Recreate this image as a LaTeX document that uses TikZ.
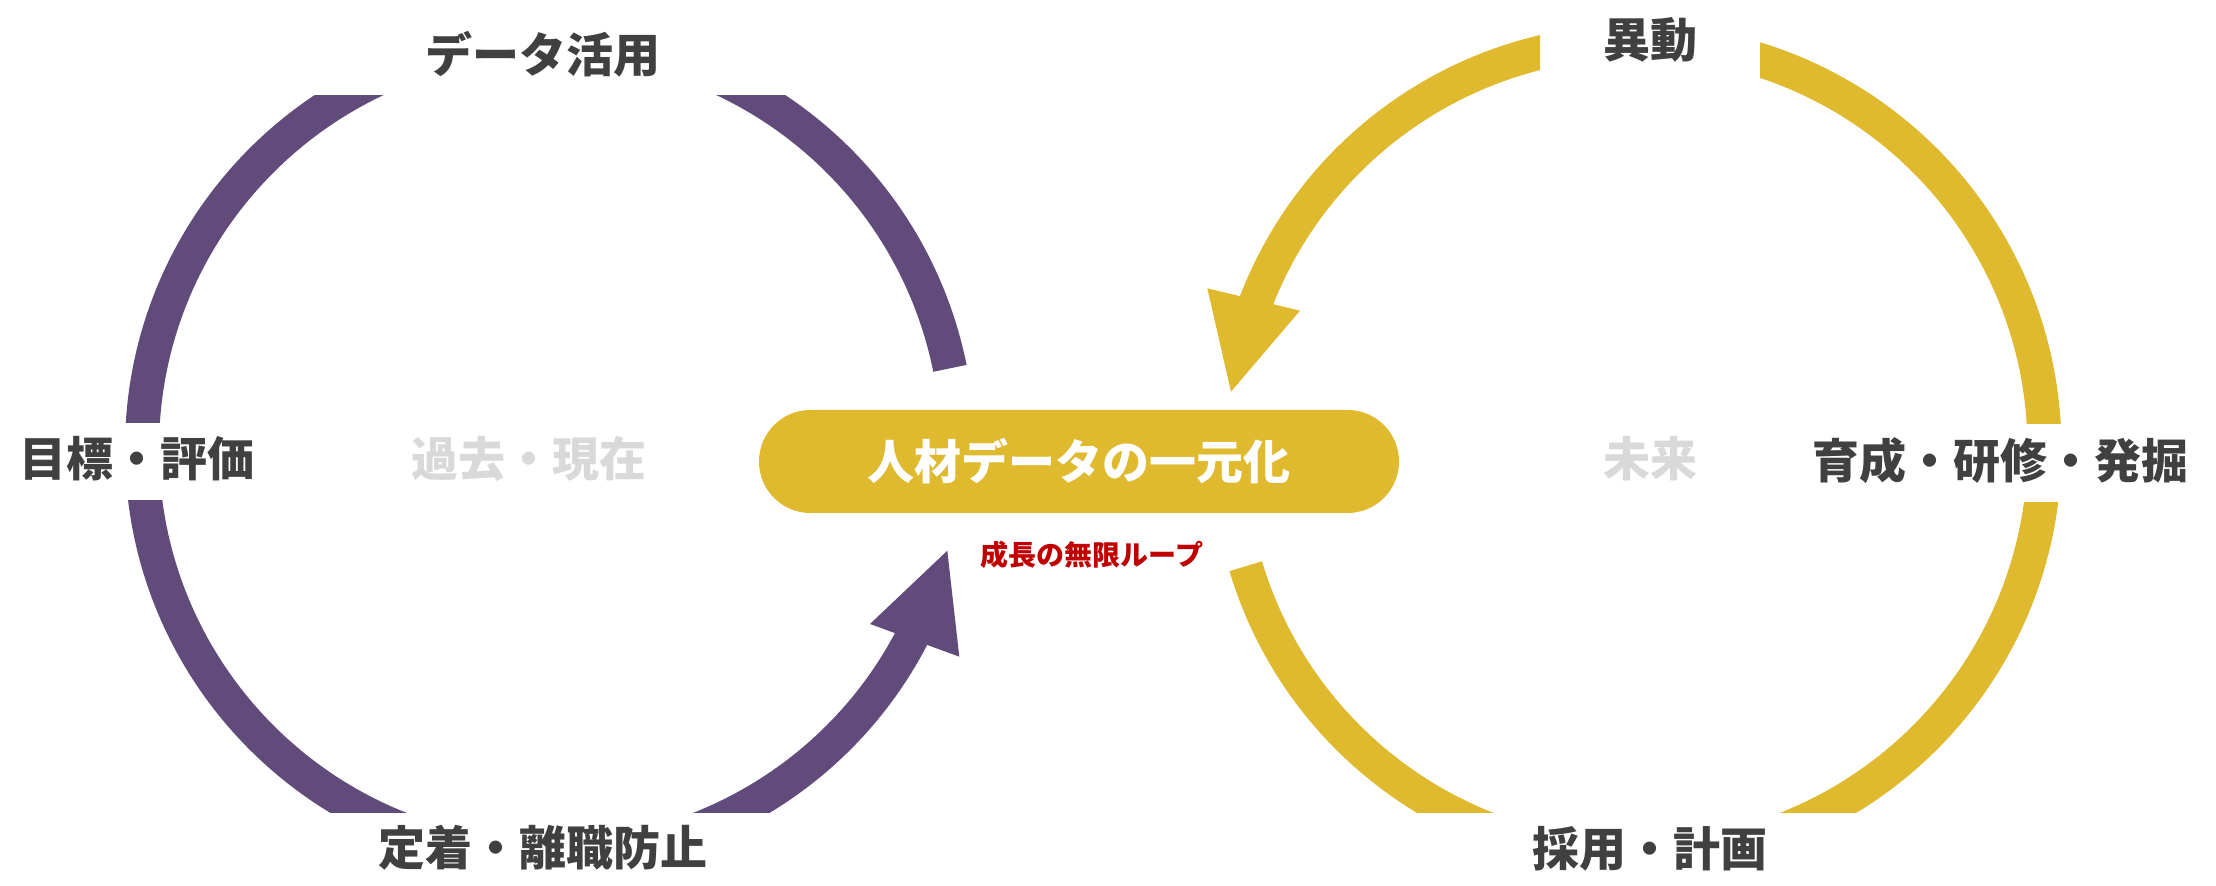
\documentclass[tikz,border=0pt]{standalone}
\usepackage{fontspec}
\newfontfamily\jpfont{Noto Sans CJK JP}

\begin{document}
\begin{tikzpicture}[x=0.5pt,y=0.5pt,
  loopline/.style={line width=17pt},
  steplabel/.style={font=\jpfont\bfseries\fontsize{23.5}{28}\selectfont,text=labelgray,inner sep=0pt},
  timelabel/.style={steplabel,text=palegray},
  hubpill/.style={fill=loopgold,minimum width=320pt,minimum height=51.5pt,rounded corners=25.7pt,
    font=\jpfont\bfseries\fontsize{23.5}{28}\selectfont,text=white,inner sep=0pt}]
\definecolor{loopviolet}{HTML}{604B7A}
\definecolor{loopgold}{HTML}{DFB92E}
\definecolor{labelgray}{HTML}{404040}
\definecolor{palegray}{HTML}{D9D9D9}
\definecolor{loopred}{HTML}{C00000}
\useasboundingbox (0,0) rectangle (2216,886);
\coordinate (pastC) at (550,437);
\coordinate (futureC) at (1636.5,437);

% past / present loop
\begin{scope}
  \clip (0,463) rectangle (1108,790);
  \draw[loopline,loopviolet] ([shift={(90:408)}]pastC) arc[start angle=90,end angle=180,radius=408];
\end{scope}
\begin{scope}
  \clip (0,0) rectangle (1108,790);
  \draw[loopline,loopviolet] ([shift={(11.4:408)}]pastC) arc[start angle=11.4,end angle=90,radius=408];
\end{scope}
\begin{scope}
  \clip (0,73) rectangle (1108,385);
  \draw[loopline,loopviolet] ([shift={(180:408)}]pastC) arc[start angle=180,end angle=270,radius=408];
\end{scope}
\begin{scope}
  \clip (0,73) rectangle (1108,886);
  \draw[loopline,loopviolet] ([shift={(-100:408)}]pastC) arc[start angle=-100,end angle=-24,radius=408];
\end{scope}
\fill[loopviolet] (870,262) -- (947.3,335.3) -- (959.3,229.3) -- cycle;

% future loop
\begin{scope}
  \clip (1108,0) rectangle (1540,886);
  \draw[loopline,loopgold] ([shift={(95:408)}]futureC) arc[start angle=95,end angle=161,radius=408];
\end{scope}
\fill[loopgold] (1207.3,597.7) -- (1231,494.3) -- (1300,575.3) -- cycle;
\begin{scope}
  \clip (1760,462) rectangle (2216,886);
  \draw[loopline,loopgold] ([shift={(0:408)}]futureC) arc[start angle=0,end angle=85,radius=408];
\end{scope}
\begin{scope}
  \clip (1108,73) rectangle (2216,383);
  \draw[loopline,loopgold] ([shift={(-90:408)}]futureC) arc[start angle=-90,end angle=0,radius=408];
\end{scope}
\begin{scope}
  \clip (1108,73) rectangle (2216,886);
  \draw[loopline,loopgold] ([shift={(196.7:408)}]futureC) arc[start angle=196.7,end angle=280,radius=408];
\end{scope}

\node[hubpill] (hub) at (1079,424.5) {人材データの一元化};
\node[font=\jpfont\bfseries\fontsize{14}{17}\selectfont,text=loopred,inner sep=0pt] (infinite) at (1092,331) {成長の無限ループ};

\foreach \name/\txt/\x/\y in {use/データ活用/543/832,goal/目標・評価/137/427.5,keep/定着・離職防止/543/38,
  move/異動/1650/846,grow/育成・研修・発掘/2000/425,hire/採用・計画/1650/37}
  {\node[steplabel] (\name) at (\x,\y) {\txt};}
\node[timelabel] (past) at (529,427) {過去・現在};
\node[timelabel] (future) at (1650,427) {未来};
\end{tikzpicture}
\end{document}
